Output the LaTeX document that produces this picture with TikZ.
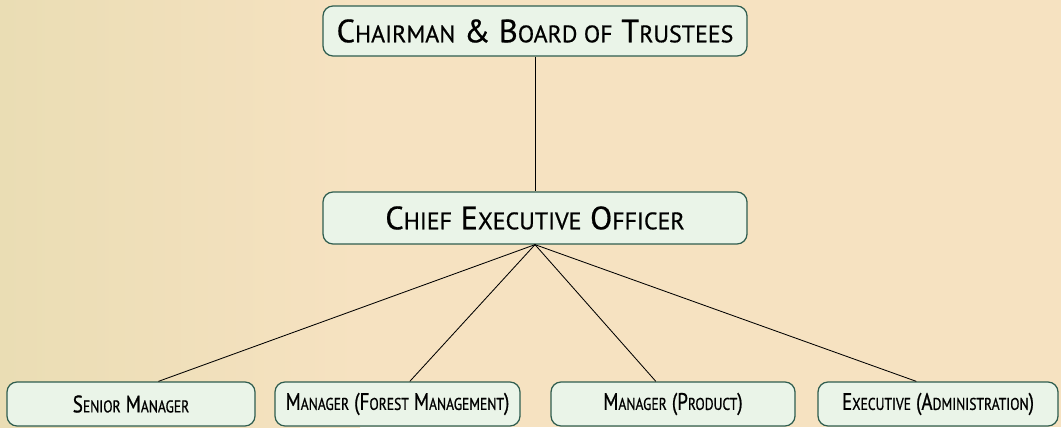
\documentclass[tikz,border=0pt]{standalone}
\usepackage{fontspec}
\setmainfont{PT Sans}[FakeBold=0.6]
\newfontfamily\scsmall{PT Sans}[Scale=0.74, FakeBold=0.6]
\newfontfamily\narrowfont{PT Sans}[FakeStretch=0.8, FakeBold=0.8]
\newfontfamily\narrowsmall{PT Sans}[FakeStretch=0.8, Scale=0.71, FakeBold=0.8]
\usepackage{tikz}
\usetikzlibrary{positioning,calc}
\usepackage{xcolor}
\definecolor{paper}{HTML}{F6E2C1}
\definecolor{paperdark}{HTML}{EADDB4}
\definecolor{boxfill}{HTML}{EAF4E8}
\definecolor{boxline}{HTML}{2F5D4F}
% fake small caps: first letter full size, the rest smaller
\newcommand{\fsc}[2]{#1{\scsmall #2}}
\newcommand{\nsc}[2]{#1{\narrowsmall #2}}

\begin{document}
\begin{tikzpicture}[
    post/.style={draw=boxline, fill=boxfill, rounded corners=0.25cm, line width=0.9pt, inner sep=0pt},
    bigpost/.style={post, minimum width=10.6cm, font=\fontsize{23}{27}\selectfont},
    smallpost/.style={post, minimum height=1.1cm, font=\narrowfont\fontsize{17}{20}\selectfont},
    link/.style={black, line width=0.6pt}
]
    % Background
    \fill[paper] (0,0) rectangle (26.525,10.675);
    \shade[left color=paperdark, right color=paper] (0,0) rectangle (9,10.675);
    \useasboundingbox (0,0) rectangle (26.525,10.675);

    % Top
    \node[bigpost, minimum height=1.25cm] (board) at (13.375, 9.9)
        {\fsc{C}{HAIRMAN} \& \fsc{B}{OARD OF} \fsc{T}{RUSTEES}};

    % Middle
    \node[bigpost, minimum height=1.3cm] (ceo) at (13.375, 5.225)
        {\fsc{C}{HIEF} \fsc{E}{XECUTIVE} \fsc{O}{FFICER}};

    % Bottom row
    \node[smallpost, minimum width=6.2cm] (senior) at (3.275, 0.575)
        {\nsc{S}{ENIOR} \nsc{M}{ANAGER}};
    \node[smallpost, minimum width=6.125cm] (forest) at (9.9375, 0.575)
        {\nsc{M}{ANAGER} (\nsc{F}{OREST} \nsc{M}{ANAGEMENT})};
    \node[smallpost, minimum width=6.1cm] (product) at (16.825, 0.575)
        {\nsc{M}{ANAGER} (\nsc{P}{RODUCT})};
    \node[smallpost, minimum width=6.0cm] (admin) at (23.45, 0.575)
        {\nsc{E}{XECUTIVE} (\nsc{A}{DMINISTRATION})};

    % Links
    \draw[link] (board.south) -- (ceo.north);
    \draw[link] (ceo.south) -- ($(senior.north west)!0.61!(senior.north east)$);
    \draw[link] (ceo.south) -- ($(forest.north west)!0.55!(forest.north east)$);
    \draw[link] (ceo.south) -- ($(product.north west)!0.43!(product.north east)$);
    \draw[link] (ceo.south) -- ($(admin.north west)!0.41!(admin.north east)$);
\end{tikzpicture}
\end{document}
